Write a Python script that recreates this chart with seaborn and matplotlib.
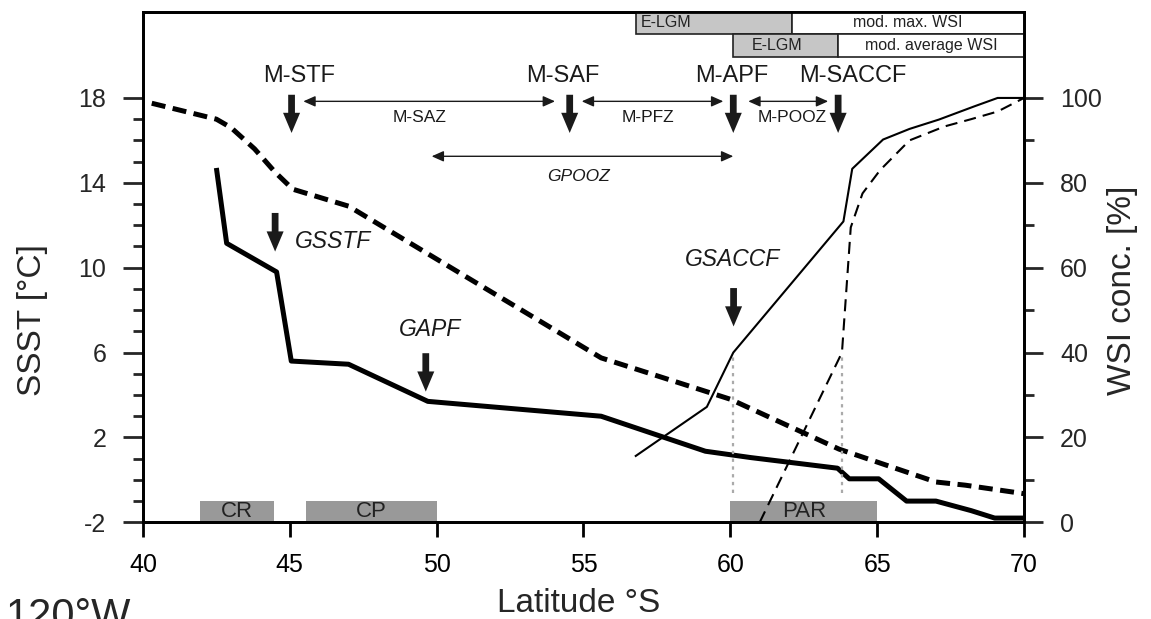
import matplotlib
matplotlib.use("Agg")
import matplotlib.pyplot as plt
import numpy as np
import pandas as pd
import seaborn as sns

# ---- data ---------------------------------------------------------------
# glacial summer SST (thick solid) and modern summer SST (thick dashed), degC
lat_glacial_sst = [42.5, 42.85, 44.55, 45.05, 47.0, 49.7, 55.6, 59.15, 60.7,
                   63.65, 64.05, 65.05, 66.0, 67.0, 68.2, 69.0, 70.0]
sst_glacial = [14.7, 11.15, 9.8, 5.6, 5.45, 3.7, 3.0, 1.35, 1.05,
               0.55, 0.05, 0.05, -1.0, -1.0, -1.45, -1.8, -1.8]

lat_modern_sst = [40.3, 42.5, 43.0, 43.8, 44.5, 45.1, 47.0, 55.6, 60.0,
                  63.7, 67.0, 68.0, 70.0]
sst_modern = [17.75, 17.0, 16.6, 15.6, 14.5, 13.7, 12.9, 5.75, 3.8,
              1.45, -0.1, -0.25, -0.65]

# winter sea-ice concentration, % (thin solid: glacial, thin dashed: modern)
lat_glacial_wsi = [56.75, 59.2, 60.1, 63.85, 64.15, 65.2, 66.1, 67.1, 68.3, 69.1, 70.0]
wsi_glacial = [15.5, 27.2, 40.0, 70.9, 83.3, 90.2, 92.7, 94.9, 98.0, 100.0, 100.0]

lat_modern_wsi = [61.0, 63.8, 64.1, 64.5, 65.1, 66.1, 67.3, 68.2, 69.1, 70.0]
wsi_modern = [0.0, 40.0, 69.5, 77.5, 83.0, 90.0, 93.3, 95.0, 96.8, 100.0]

# core groups along the bottom
group_names = ["CR", "CP", "PAR"]
group_start = [41.95, 45.55, 60.0]
group_end = [44.45, 50.0, 65.0]

# modern fronts (bold arrows) and glacial fronts (italic)
front_names = ["M-STF", "M-SAF", "M-APF", "M-SACCF"]
front_lat = [45.06, 54.53, 60.1, 63.67]
glacial_front_names = ["GSSTF", "GAPF", "GSACCF"]
glacial_front_lat = [44.5, 49.63, 60.11]

# zones between fronts
zone_names = ["M-SAZ", "M-PFZ", "M-POOZ", "GPOOZ"]
zone_start = [45.46, 54.94, 60.61, 49.83]
zone_end = [54.03, 59.76, 63.33, 60.1]

# sea-ice extent bars (E-LGM vs modern)
ice_rows = ["mod. max. WSI", "mod. average WSI"]
elgm_start = [56.8, 60.08]
elgm_end = [62.1, 63.67]

x_ticks = [40, 45, 50, 55, 60, 65, 70]
sst_ticks = [-2, 2, 6, 10, 14, 18]
wsi_ticks = [0, 20, 40, 60, 80, 100]

# ---- style --------------------------------------------------------------
sns.set_style("ticks")
plt.rcParams["font.family"] = ["Liberation Sans", "DejaVu Sans"]
plt.rcParams["lines.solid_capstyle"] = "butt"
plt.rcParams["axes.unicode_minus"] = False

fig = plt.figure(figsize=(11.51, 6.19), dpi=100)
ax = fig.add_axes([0.1242, 0.1562, 0.7655, 0.8244])
ax2 = ax.twinx()

Y0, Y1 = -2.0, 22.05
ax.set_xlim(40, 70)
ax.set_ylim(Y0, Y1)
ax2.set_ylim((Y0 + 2) * 5, (Y1 + 2) * 5)

# ---- SST curves ---------------------------------------------------------
df_g = pd.DataFrame({"lat": lat_glacial_sst, "sst": sst_glacial})
df_m = pd.DataFrame({"lat": lat_modern_sst, "sst": sst_modern})
sns.lineplot(data=df_g, x="lat", y="sst", ax=ax, color="black", lw=3.6,
             estimator=None, sort=False, zorder=4)
sns.lineplot(data=df_m, x="lat", y="sst", ax=ax, color="black", lw=3.6,
             estimator=None, sort=False, zorder=4)
ax.get_lines()[-1].set_dashes([2.8, 1.5])

# ---- WSI curves ---------------------------------------------------------
df_wg = pd.DataFrame({"lat": lat_glacial_wsi, "wsi": wsi_glacial})
df_wm = pd.DataFrame({"lat": lat_modern_wsi, "wsi": wsi_modern})
sns.lineplot(data=df_wg, x="lat", y="wsi", ax=ax2, color="black", lw=1.5,
             estimator=None, sort=False, zorder=4)
sns.lineplot(data=df_wm, x="lat", y="wsi", ax=ax2, color="black", lw=1.5,
             estimator=None, sort=False, zorder=4)
ax2.get_lines()[-1].set_dashes([5.8, 3.4])

# grey dotted drop lines under the WSI knees
ax2.vlines([lat_glacial_wsi[2], lat_modern_wsi[1]], 7, [wsi_glacial[2], wsi_modern[1]],
           colors="#aaaaaa", linestyles=(0, (1.5, 2.0)), lw=1.6, zorder=2)

# ---- bottom group bars --------------------------------------------------
widths = np.array(group_end) - np.array(group_start)
ax.bar(group_start, 1.0, width=widths, bottom=-2, align="edge",
       color="#999999", edgecolor="none", zorder=1)
for name, s, e in zip(group_names, group_start, group_end):
    ax.text((s + e) / 2, -1.5, name, ha="center", va="center",
            fontsize=16, color="#222222", zorder=3)

# ---- sea-ice extent boxes at the top -----------------------------------
row_bottom = [21.03, 19.93]
row_top = [Y1, 21.03]
for i, (name, s, e) in enumerate(zip(ice_rows, elgm_start, elgm_end)):
    h = row_top[i] - row_bottom[i]
    ax.bar([s], h, width=e - s, bottom=row_bottom[i], align="edge",
           color="#c6c6c6", edgecolor="#222222", lw=1.2, zorder=3, clip_on=False)
    ax.bar([e], h, width=70 - e, bottom=row_bottom[i], align="edge",
           color="white", edgecolor="#222222", lw=1.2, zorder=3, clip_on=False)
    ymid = (row_bottom[i] + row_top[i]) / 2
    ax.text((e + 70) / 2, ymid, name, ha="center", va="center",
            fontsize=11.5, color="#222222", zorder=4)
ax.text(elgm_start[0] + 0.15, (row_bottom[0] + row_top[0]) / 2, "E-LGM",
        ha="left", va="center", fontsize=11.5, color="#222222", zorder=4)
ax.text(61.59, (row_bottom[1] + row_top[1]) / 2, "E-LGM",
        ha="center", va="center", fontsize=11.5, color="#222222", zorder=4)

# ---- front arrows -------------------------------------------------------
def down_arrow(x, y_tail, y_tip):
    ax.arrow(x, y_tail, 0, y_tip - y_tail, width=0.23, head_width=0.58,
             head_length=0.95, length_includes_head=True,
             fc="#1a1a1a", ec="none", zorder=5)

front_label_x = [45.31, 54.28, 60.04, 64.16]
for name, x, lx in zip(front_names, front_lat, front_label_x):
    down_arrow(x, 18.15, 16.35)
    ax.text(lx, 19.05, name, ha="center", va="center", fontsize=17,
            color="#1a1a1a", zorder=5)

g_tail = [12.58, 5.97, 9.04]
g_tip = [10.76, 4.16, 7.23]
g_lx = [46.47, 49.77, 60.09]
g_ly = [11.24, 7.07, 10.37]
for name, x, t0, t1, lx, ly in zip(glacial_front_names, glacial_front_lat,
                                   g_tail, g_tip, g_lx, g_ly):
    down_arrow(x, t0, t1)
    ax.text(lx, ly, name, ha="center", va="center", fontsize=16.5,
            style="italic", color="#1a1a1a", zorder=5)

# ---- zone double arrows -------------------------------------------------
zone_y = [17.84, 17.84, 17.84, 15.25]
zone_label_x = [49.43, 57.18, 62.09, 54.84]
zone_label_y = [17.06, 17.06, 17.1, 14.3]
for i, name in enumerate(zone_names):
    ax.annotate("", xy=(zone_end[i], zone_y[i]), xytext=(zone_start[i], zone_y[i]),
                arrowprops=dict(arrowstyle="<|-|>,head_length=0.45,head_width=0.2",
                                lw=1.0, color="#1a1a1a", mutation_scale=16,
                                shrinkA=0, shrinkB=0), zorder=5)
    ax.text(zone_label_x[i], zone_label_y[i], name, ha="center", va="center",
            fontsize=12.5, color="#1a1a1a",
            style="italic" if name.startswith("G") else "normal", zorder=5)

# ---- axes, ticks, labels ------------------------------------------------
for a in (ax, ax2):
    for sp in a.spines.values():
        sp.set_linewidth(2.0)
        sp.set_color("black")
        sp.set_visible(True)

ax.set_xticks(x_ticks)
ax.set_yticks(sst_ticks)
ax.set_yticks(np.arange(-2, 18.5, 1), minor=True)
ax2.set_yticks(wsi_ticks)
ax2.set_yticks(np.arange(0, 101, 10), minor=True)

ax.tick_params(axis="x", which="major", direction="out", length=10.8, width=2,
               labelsize=18, pad=11, colors="black")
ax.tick_params(axis="y", which="major", direction="out", length=14.4, width=2,
               labelsize=18, pad=12)
ax.tick_params(axis="y", which="minor", direction="out", length=7.2, width=2)
ax2.tick_params(axis="y", which="major", direction="out", length=14, width=2,
                labelsize=18, pad=12)
ax2.tick_params(axis="y", which="minor", direction="out", length=7.2, width=2)

ax.set_xlabel("Latitude °S", fontsize=24)
ax.xaxis.set_label_coords(0.494, -0.128)
ax.set_ylabel("SSST [°C]", fontsize=24)
ax.yaxis.set_label_coords(-0.108, 0.396)
ax2.set_ylabel("WSI conc. [%]", fontsize=24)
ax2.yaxis.set_label_coords(1.094, 0.455)

# panel label carried over from the adjacent panel
fig.text(0.005, -0.0145, "120°W", fontsize=30, ha="left", va="baseline")

fig.savefig("out.png", dpi=100)
